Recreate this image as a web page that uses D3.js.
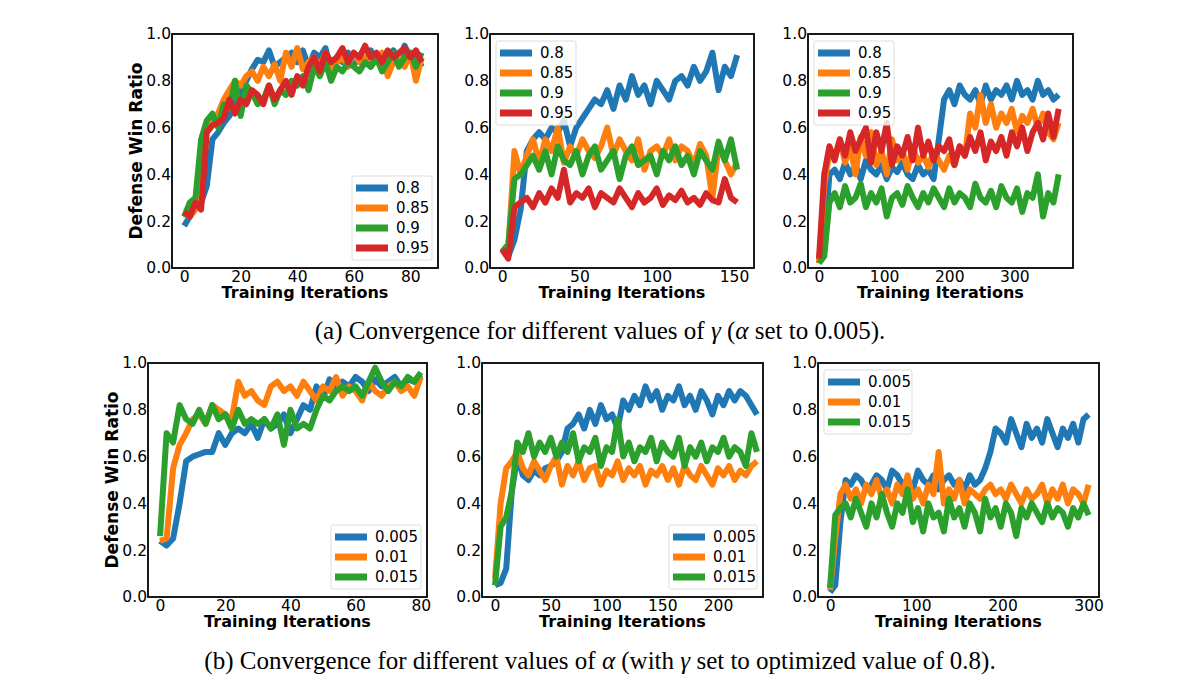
<!DOCTYPE html>
<html>
<head>
<meta charset="utf-8">
<script src="https://cdn.jsdelivr.net/npm/d3@7"></script>
<style>
  body { margin: 0; background: #fff; }
  text { font-family: "DejaVu Sans", sans-serif; }
</style>
</head>
<body>
<div id="chart"></div>
<script>
// training iteration step used when sampling each panel's curves
var colors = ["#1f77b4", "#ff7f0e", "#2ca02c", "#d62728"];

var gammaLabels = ["0.8", "0.85", "0.9", "0.95"];
var alphaLabels = ["0.005", "0.01", "0.015"];

var a1Blue = [0.18,0.22,0.26,0.28,0.35,0.55,0.58,0.62,0.65,0.70,0.75,0.80,0.85,0.89,0.88,0.93,0.86,0.88,0.90,0.92,0.88,0.93,0.86,0.92,0.90,0.94,0.84,0.90,0.88,0.92,0.87,0.90,0.89,0.93,0.88,0.91,0.90,0.93,0.89,0.95,0.90,0.92,0.86];
var a1Orange = [0.23,0.22,0.25,0.52,0.60,0.62,0.66,0.72,0.76,0.80,0.78,0.82,0.84,0.80,0.86,0.82,0.87,0.80,0.92,0.86,0.94,0.85,0.88,0.90,0.86,0.92,0.84,0.88,0.90,0.86,0.92,0.88,0.90,0.86,0.89,0.92,0.82,0.88,0.90,0.86,0.92,0.80,0.90];
var a1Green = [0.22,0.28,0.30,0.55,0.63,0.66,0.60,0.70,0.68,0.80,0.65,0.78,0.75,0.70,0.72,0.78,0.70,0.76,0.74,0.80,0.78,0.82,0.76,0.86,0.82,0.88,0.80,0.86,0.84,0.88,0.86,0.84,0.88,0.86,0.90,0.84,0.88,0.92,0.86,0.90,0.92,0.86,0.92];
var a1Red = [0.24,0.22,0.28,0.25,0.58,0.61,0.62,0.64,0.72,0.66,0.72,0.70,0.76,0.74,0.70,0.78,0.72,0.76,0.80,0.74,0.82,0.78,0.86,0.90,0.84,0.92,0.88,0.90,0.94,0.88,0.92,0.90,0.95,0.90,0.92,0.88,0.93,0.90,0.92,0.94,0.90,0.93,0.88];

var a2Blue = [0.08,0.05,0.12,0.25,0.50,0.55,0.58,0.55,0.60,0.58,0.63,0.52,0.60,0.64,0.68,0.72,0.70,0.76,0.68,0.78,0.72,0.82,0.74,0.78,0.70,0.80,0.76,0.72,0.80,0.82,0.78,0.86,0.80,0.84,0.92,0.76,0.86,0.82,0.91];
var a2Orange = [0.06,0.08,0.50,0.40,0.48,0.55,0.45,0.55,0.50,0.60,0.45,0.52,0.48,0.55,0.50,0.47,0.52,0.60,0.48,0.55,0.50,0.46,0.55,0.42,0.50,0.52,0.48,0.55,0.46,0.52,0.50,0.44,0.53,0.48,0.30,0.52,0.46,0.40,0.45];
var a2Green = [0.07,0.10,0.38,0.40,0.44,0.48,0.42,0.50,0.40,0.52,0.46,0.44,0.50,0.40,0.48,0.52,0.42,0.46,0.50,0.38,0.48,0.52,0.44,0.46,0.48,0.40,0.50,0.46,0.52,0.44,0.48,0.40,0.50,0.46,0.42,0.54,0.46,0.55,0.42];
var a2Red = [0.08,0.04,0.26,0.28,0.30,0.26,0.32,0.28,0.34,0.30,0.42,0.28,0.32,0.30,0.34,0.26,0.32,0.30,0.28,0.34,0.30,0.26,0.32,0.28,0.30,0.34,0.27,0.31,0.29,0.33,0.28,0.30,0.27,0.32,0.29,0.28,0.38,0.30,0.28];

var a3Blue = [0.03,0.10,0.40,0.42,0.38,0.45,0.40,0.44,0.38,0.46,0.42,0.40,0.44,0.38,0.43,0.41,0.45,0.40,0.38,0.44,0.40,0.42,0.38,0.55,0.72,0.76,0.70,0.78,0.74,0.72,0.76,0.70,0.78,0.72,0.76,0.74,0.78,0.72,0.80,0.74,0.76,0.72,0.80,0.74,0.76,0.72,0.74];
var a3Orange = [0.02,0.35,0.50,0.48,0.55,0.45,0.52,0.40,0.56,0.48,0.58,0.44,0.50,0.40,0.55,0.46,0.50,0.42,0.52,0.45,0.48,0.43,0.50,0.46,0.42,0.48,0.44,0.52,0.48,0.66,0.60,0.74,0.62,0.70,0.60,0.66,0.62,0.68,0.58,0.65,0.62,0.68,0.60,0.66,0.58,0.55,0.62];
var a3Green = [0.02,0.05,0.28,0.32,0.26,0.35,0.28,0.30,0.36,0.26,0.32,0.28,0.34,0.22,0.30,0.32,0.27,0.35,0.30,0.26,0.32,0.28,0.34,0.30,0.26,0.34,0.28,0.32,0.30,0.26,0.36,0.30,0.28,0.33,0.26,0.35,0.30,0.28,0.34,0.24,0.32,0.30,0.40,0.22,0.32,0.28,0.40];
var a3Red = [0.04,0.40,0.52,0.46,0.55,0.48,0.58,0.50,0.55,0.60,0.45,0.58,0.50,0.62,0.44,0.52,0.48,0.56,0.46,0.60,0.48,0.54,0.46,0.52,0.50,0.55,0.44,0.52,0.48,0.56,0.50,0.58,0.46,0.54,0.50,0.56,0.48,0.58,0.52,0.60,0.50,0.58,0.62,0.55,0.66,0.56,0.68];

var b1Blue = [0.24,0.22,0.25,0.40,0.58,0.60,0.61,0.62,0.62,0.70,0.65,0.70,0.72,0.70,0.74,0.68,0.76,0.72,0.74,0.78,0.70,0.76,0.82,0.80,0.90,0.85,0.93,0.88,0.92,0.90,0.94,0.92,0.88,0.93,0.90,0.92,0.94,0.90,0.93,0.92,0.95];
var b1Orange = [0.24,0.25,0.55,0.65,0.70,0.76,0.78,0.74,0.82,0.80,0.78,0.76,0.92,0.86,0.88,0.84,0.82,0.90,0.92,0.88,0.90,0.86,0.92,0.88,0.84,0.90,0.88,0.94,0.86,0.90,0.88,0.84,0.92,0.88,0.86,0.90,0.92,0.88,0.90,0.86,0.94];
var b1Green = [0.26,0.70,0.66,0.82,0.76,0.74,0.80,0.74,0.82,0.76,0.78,0.72,0.80,0.74,0.76,0.74,0.76,0.72,0.78,0.65,0.80,0.72,0.74,0.72,0.80,0.86,0.84,0.88,0.90,0.88,0.90,0.86,0.92,0.98,0.92,0.88,0.92,0.90,0.94,0.92,0.96];

var b2Blue = [0.05,0.06,0.12,0.45,0.60,0.52,0.50,0.54,0.52,0.55,0.56,0.58,0.62,0.72,0.74,0.78,0.72,0.80,0.74,0.82,0.76,0.78,0.72,0.84,0.80,0.86,0.82,0.90,0.84,0.88,0.80,0.86,0.84,0.90,0.82,0.86,0.80,0.88,0.84,0.78,0.86,0.82,0.88,0.84,0.88,0.86,0.82,0.78];
var b2Orange = [0.08,0.40,0.55,0.58,0.62,0.55,0.52,0.58,0.54,0.50,0.56,0.60,0.48,0.56,0.52,0.58,0.50,0.55,0.56,0.48,0.54,0.52,0.58,0.50,0.55,0.52,0.56,0.48,0.54,0.52,0.56,0.50,0.55,0.48,0.56,0.52,0.50,0.56,0.52,0.48,0.55,0.52,0.56,0.50,0.54,0.52,0.56,0.58];
var b2Green = [0.05,0.30,0.34,0.45,0.66,0.62,0.70,0.60,0.66,0.62,0.68,0.60,0.66,0.62,0.70,0.58,0.64,0.62,0.68,0.56,0.64,0.62,0.76,0.60,0.66,0.58,0.64,0.62,0.68,0.58,0.66,0.62,0.60,0.68,0.56,0.64,0.60,0.66,0.58,0.64,0.62,0.68,0.60,0.64,0.62,0.56,0.70,0.62];

var b3Blue = [0.02,0.05,0.32,0.50,0.48,0.52,0.50,0.46,0.48,0.52,0.50,0.46,0.54,0.52,0.48,0.50,0.46,0.54,0.50,0.48,0.52,0.46,0.50,0.52,0.48,0.50,0.46,0.52,0.48,0.50,0.55,0.62,0.72,0.70,0.66,0.76,0.70,0.64,0.74,0.68,0.72,0.66,0.76,0.70,0.64,0.72,0.68,0.74,0.66,0.76,0.78];
var b3Orange = [0.03,0.25,0.44,0.48,0.42,0.46,0.40,0.48,0.44,0.50,0.42,0.46,0.40,0.48,0.44,0.52,0.42,0.46,0.40,0.48,0.44,0.62,0.40,0.46,0.42,0.50,0.40,0.46,0.44,0.42,0.46,0.48,0.44,0.46,0.42,0.48,0.44,0.40,0.46,0.42,0.44,0.48,0.40,0.46,0.42,0.48,0.40,0.46,0.44,0.40,0.48];
var b3Green = [0.04,0.35,0.38,0.40,0.34,0.42,0.36,0.30,0.40,0.34,0.44,0.36,0.30,0.40,0.36,0.46,0.32,0.38,0.28,0.40,0.34,0.36,0.28,0.42,0.34,0.38,0.30,0.40,0.36,0.28,0.42,0.34,0.38,0.30,0.40,0.36,0.26,0.38,0.34,0.40,0.36,0.32,0.40,0.34,0.38,0.36,0.30,0.38,0.34,0.40,0.35];

var yTicks = [0, 0.2, 0.4, 0.6, 0.8, 1.0];

var panels = [
  { box: [172, 34, 438, 268], xd: [-4.3, 89.8], step: 2, xt: [0, 20, 40, 60, 80], series: [a1Blue, a1Orange, a1Green, a1Red], labels: gammaLabels, leg: "br", legW: 80, ylab: true },
  { box: [490, 34, 754, 268], xd: [-7.8, 162.9], step: 4, xt: [0, 50, 100, 150], series: [a2Blue, a2Orange, a2Green, a2Red], labels: gammaLabels, leg: "tl", legW: 80 },
  { box: [808, 34, 1073, 268], xd: [-16.9, 390], step: 8, xt: [0, 100, 200, 300], series: [a3Blue, a3Orange, a3Green, a3Red], labels: gammaLabels, leg: "tl", legW: 80 },
  { box: [148, 363, 427, 597], xd: [-3.7, 81.9], step: 2, xt: [0, 20, 40, 60, 80], series: [b1Blue, b1Orange, b1Green], labels: alphaLabels, leg: "br", legW: 90, ylab: true },
  { box: [482, 363, 763, 597], xd: [-11.7, 240.4], step: 5, xt: [0, 50, 100, 150, 200], series: [b2Blue, b2Orange, b2Green], labels: alphaLabels, leg: "br", legW: 88 },
  { box: [818, 363, 1099, 597], xd: [-14, 312], step: 6, xt: [0, 100, 200, 300], series: [b3Blue, b3Orange, b3Green], labels: alphaLabels, leg: "tl", legW: 88 }
];

var svg = d3.select("#chart").append("svg")
  .attr("width", 1200).attr("height", 695);

svg.append("rect").attr("width", 1200).attr("height", 695).attr("fill", "#fff");

panels.forEach(function (p) {
  var x = d3.scaleLinear().domain(p.xd).range([p.box[0], p.box[2]]);
  var y = d3.scaleLinear().domain([0, 1]).range([p.box[3], p.box[1]]);
  var g = svg.append("g");

  var clipId = "clip" + p.box[0] + "_" + p.box[1];
  g.append("clipPath").attr("id", clipId).append("rect")
    .attr("x", p.box[0]).attr("y", p.box[1])
    .attr("width", p.box[2] - p.box[0]).attr("height", p.box[3] - p.box[1]);

  var line = d3.line()
    .x(function (d, i) { return x(i * p.step); })
    .y(function (d) { return y(d); });

  p.series.forEach(function (s, k) {
    g.append("path").datum(s)
      .attr("d", line)
      .attr("clip-path", "url(#" + clipId + ")")
      .style("fill", "none")
      .style("stroke", colors[k])
      .style("stroke-width", 6)
      .style("stroke-linejoin", "round");
  });

  g.append("rect")
    .attr("x", p.box[0]).attr("y", p.box[1])
    .attr("width", p.box[2] - p.box[0]).attr("height", p.box[3] - p.box[1])
    .style("fill", "none").style("stroke", "#000").style("stroke-width", 1.8);

  var xa = g.append("g").attr("transform", "translate(0," + p.box[3] + ")")
    .call(d3.axisBottom(x).tickValues(p.xt).tickSize(0).tickPadding(3));
  xa.select(".domain").remove();
  xa.selectAll("text").style("font-size", "15.5px").style("font-family", "DejaVu Sans").attr("fill", "#000");

  var ya = g.append("g").attr("transform", "translate(" + p.box[0] + ",0)")
    .call(d3.axisLeft(y).tickValues(yTicks).tickFormat(d3.format(".1f")).tickSize(0).tickPadding(1));
  ya.select(".domain").remove();
  ya.selectAll("text").style("font-size", "15.5px").style("font-family", "DejaVu Sans").attr("fill", "#000");

  g.append("text")
    .attr("x", (p.box[0] + p.box[2]) / 2).attr("y", p.box[3] + 30)
    .attr("text-anchor", "middle")
    .style("font-size", "16px").style("font-weight", "bold")
    .text("Training Iterations");

  if (p.ylab) {
    g.append("text")
      .attr("transform", "translate(" + (p.box[0] - 36) + "," + ((p.box[1] + p.box[3]) / 2) + ") rotate(-90)")
      .attr("text-anchor", "middle")
      .attr("dy", "0.35em")
      .style("font-size", "17px").style("font-weight", "bold")
      .text("Defense Win Ratio");
  }

  // legend
  var n = p.labels.length;
  var lh = n * 20 + 4;
  var lx = p.leg === "tl" ? p.box[0] + 6 : p.box[2] - 6 - p.legW;
  var ly = p.leg === "tl" ? p.box[1] + 7 : p.box[3] - 8 - lh;
  var lg = g.append("g").attr("transform", "translate(" + lx + "," + ly + ")");
  lg.append("rect").attr("width", p.legW).attr("height", lh)
    .attr("rx", 2)
    .style("fill", "#fff").style("fill-opacity", 0.8)
    .style("stroke", "#ddd").style("stroke-width", 1);
  var items = lg.selectAll(".li").data(p.labels).enter().append("g")
    .attr("transform", function (d, i) { return "translate(4," + (12 + i * 20) + ")"; });
  items.append("line").attr("x1", 0).attr("x2", 32)
    .style("stroke", function (d, i) { return colors[i]; })
    .style("stroke-width", 7);
  items.append("text").attr("x", 40).attr("dy", "0.35em")
    .style("font-size", "15px").text(function (d) { return d; });
});

svg.append("text").attr("x", 600).attr("y", 339).attr("text-anchor", "middle")
  .style("font-family", "Liberation Serif, serif").style("font-size", "25px")
  .html("(a) Convergence for different values of <tspan font-style='italic'>γ</tspan> (<tspan font-style='italic'>α</tspan> set to 0.005).");

svg.append("text").attr("x", 600).attr("y", 669).attr("text-anchor", "middle")
  .style("font-family", "Liberation Serif, serif").style("font-size", "25px")
  .html("(b) Convergence for different values of <tspan font-style='italic'>α</tspan> (with <tspan font-style='italic'>γ</tspan> set to optimized value of 0.8).");
</script>
</body>
</html>
